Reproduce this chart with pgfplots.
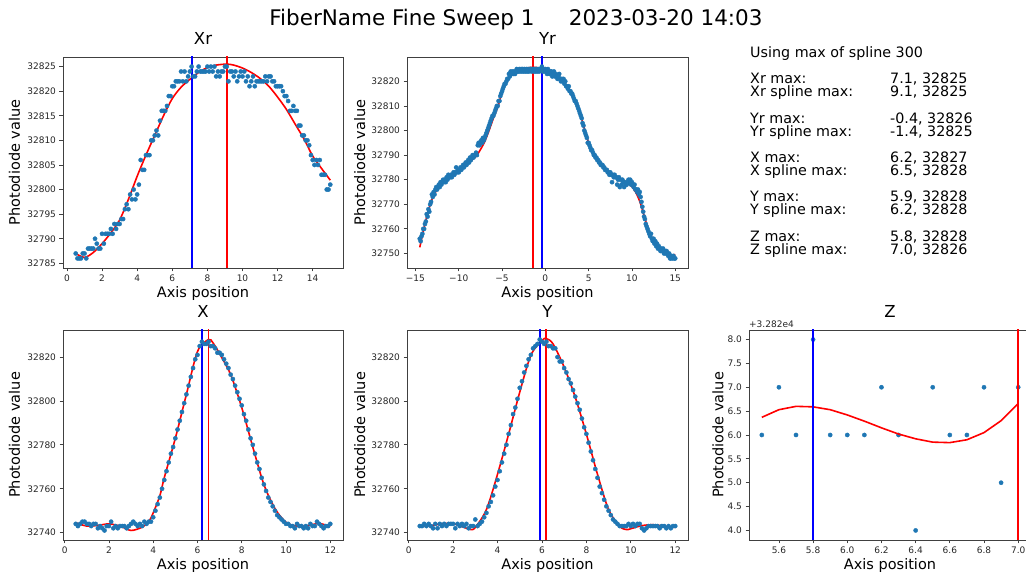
\documentclass[border=0pt]{standalone}
\usepackage{fontspec}
\setmainfont{DejaVu Sans}
\usepackage{pgfplots}
\pgfplotsset{compat=1.18}
\definecolor{cz}{HTML}{1F77B4}
\pgfplotsset{
  base/.style={
    scale only axis, width=280pt, height=211pt,
    axis line style={black!75, line width=0.8pt},
    tick align=outside, major tick length=3.5pt,
    tick style={black!75, line width=0.8pt},
    tick pos=left,
    ticklabel style={font=\fontsize{9}{10}\selectfont, text=black!85},
    /pgf/number format/assume math mode=true,
    /pgf/number format/set thousands separator={},
    scaled ticks=false,
    label style={font=\fontsize{14.5}{17}\selectfont},
    title style={font=\fontsize{16.5}{19}\selectfont, at={(axis description cs:0.5,1)}, anchor=base, yshift=6pt},
    xlabel style={at={(axis description cs:0.5,0)}, anchor=base, yshift=-29.5pt},
    xlabel={Axis position}, ylabel={Photodiode value},
  },
  dots/.style={only marks, mark=*, mark size=2.1pt, mark options={fill=cz, draw=none}, color=cz},
  spl/.style={red, line width=1.6pt, no marks, smooth},
  vb/.style={blue, line width=1.9pt, no marks},
  vr/.style={red, line width=1.9pt, no marks},
}
\begin{document}
\begin{tikzpicture}[x=1pt,y=1pt]
% ---------------- Xr
\begin{axis}[base, at={(63pt,310pt)}, anchor=south west,
  title={Xr}, ylabel style={at={(axis description cs:-0.1536,0.5)}, anchor=base},
  xmin=-0.225, xmax=15.725, ymin=32784.05, ymax=32826.95,
  xtick={0,2,4,6,8,10,12,14}, ytick={32785,32790,32795,32800,32805,32810,32815,32820,32825}]
\addplot[dots] coordinates {
(0.5,32787)(0.6,32786)(0.7,32786)(0.8,32786)(0.9,32787)(1.0,32787)(1.1,32786)(1.2,32788)(1.3,32788)(1.4,32788)
(1.5,32788)(1.6,32790)(1.7,32789)(1.8,32788)(1.9,32788)(2.0,32791)(2.1,32789)(2.2,32791)(2.3,32791)(2.4,32791)
(2.5,32792)(2.6,32791)(2.7,32793)(2.8,32792)(2.9,32793)(3.0,32793)(3.1,32794)(3.2,32794)(3.3,32796)(3.4,32797)
(3.5,32796)(3.6,32799)(3.7,32798)(3.8,32800)(3.9,32798)(4.0,32799)(4.1,32801)(4.2,32806)(4.3,32804)(4.4,32804)
(4.5,32807)(4.6,32807)(4.7,32807)(4.8,32810)(4.9,32810)(5.0,32811)(5.1,32812)(5.2,32811)(5.3,32814)(5.4,32816)
(5.5,32816)(5.6,32816)(5.7,32817)(5.8,32819)(5.9,32819)(6.0,32821)(6.1,32821)(6.2,32822)(6.3,32822)(6.4,32822)
(6.5,32824)(6.6,32822)(6.7,32824)(6.8,32822)(6.9,32823)(7.0,32824)(7.1,32825)(7.2,32823)(7.3,32823)(7.4,32824)
(7.5,32825)(7.6,32824)(7.7,32824)(7.8,32824)(7.9,32824)(8.0,32825)(8.1,32824)(8.2,32825)(8.3,32824)(8.4,32825)
(8.5,32823)(8.6,32824)(8.7,32823)(8.8,32824)(8.9,32824)(9.0,32825)(9.1,32825)(9.2,32822)(9.3,32824)(9.4,32824)
(9.5,32823)(9.6,32824)(9.7,32822)(9.8,32823)(9.9,32824)(10.0,32823)(10.1,32824)(10.2,32822)(10.3,32823)(10.4,32821)
(10.5,32822)(10.6,32823)(10.7,32821)(10.8,32822)(10.9,32822)(11.0,32822)(11.1,32822)(11.2,32822)(11.3,32823)(11.4,32822)
(11.5,32823)(11.6,32823)(11.7,32822)(11.8,32822)(11.9,32821)(12.0,32821)(12.1,32821)(12.2,32821)(12.3,32820)(12.4,32819)
(12.5,32819)(12.6,32818)(12.7,32816)(12.8,32816)(12.9,32817)(13.0,32816)(13.1,32816)(13.2,32813)(13.3,32813)(13.4,32811)
(13.5,32811)(13.6,32810)(13.7,32810)(13.8,32809)(13.9,32807)(14.0,32806)(14.1,32805)(14.2,32806)(14.3,32805)(14.4,32806)
(14.5,32803)(14.6,32803)(14.7,32803)(14.8,32800)(14.9,32800)(15.0,32801)};
\addplot[spl] coordinates {(0.5,32787)(1.0,32786.2)(1.5,32787.2)(2,32789)(2.5,32791.2)(3,32793.8)(3.5,32798)(4,32802.7)(4.5,32807)(5,32811)(5.5,32815)(6,32818.5)(6.5,32820.8)(7,32822.4)(7.5,32823.8)(8,32824.8)(8.5,32825.3)(9.1,32825.5)(9.5,32825.3)(10,32824.7)(10.5,32823.8)(11,32822.6)(11.5,32821)(12,32818.8)(12.5,32816.3)(13,32813.3)(13.5,32810.3)(14,32806.8)(14.5,32804.3)(15,32801.9)};
\addplot[vb] coordinates {(7.1,32700)(7.1,32900)};
\addplot[vr] coordinates {(9.1,32700)(9.1,32900)};
\end{axis}
% ---------------- Yr
\begin{axis}[base, at={(407pt,310pt)}, anchor=south west, width=281pt,
  title={Yr}, ylabel style={at={(axis description cs:-0.149,0.5)}, anchor=base},
  xmin=-15.975, xmax=16.475, ymin=32744.1, ymax=32829.9,
  xtick={-15,-10,-5,0,5,10,15}, xticklabels={−15,−10,−5,0,5,10,15}, ytick={32750,32760,32770,32780,32790,32800,32810,32820}]
\addplot[dots] coordinates {
(-14.5,32756)(-14.4,32755)(-14.3,32757)(-14.2,32758)(-14.1,32760)(-14.0,32760)(-13.9,32762)(-13.8,32763)(-13.7,32766)(-13.6,32765)
(-13.5,32768)(-13.4,32767)(-13.3,32770)(-13.2,32771)(-13.1,32774)(-13.0,32773)(-12.9,32775)(-12.8,32774)(-12.7,32776)(-12.6,32777)
(-12.5,32776)(-12.4,32777)(-12.3,32778)(-12.2,32777)(-12.1,32779)(-12.0,32778)(-11.9,32779)(-11.8,32780)(-11.7,32779)(-11.6,32780)
(-11.5,32779)(-11.4,32781)(-11.3,32780)(-11.2,32782)(-11.1,32781)(-11.0,32781)(-10.9,32782)(-10.8,32781)(-10.7,32782)(-10.6,32783)
(-10.5,32782)(-10.4,32783)(-10.3,32785)(-10.2,32783)(-10.1,32784)(-10.0,32783)(-9.9,32784)(-9.8,32785)(-9.7,32784)(-9.6,32785)
(-9.5,32786)(-9.4,32785)(-9.3,32786)(-9.2,32787)(-9.1,32786)(-9.0,32787)(-8.9,32788)(-8.8,32787)(-8.7,32789)(-8.6,32788)
(-8.5,32789)(-8.4,32790)(-8.3,32789)(-8.2,32790)(-8.1,32790)(-8.0,32791)(-7.9,32790)(-7.8,32794)(-7.7,32795)(-7.6,32794)
(-7.5,32795)(-7.4,32796)(-7.3,32795)(-7.2,32797)(-7.1,32796)(-7.0,32797)(-6.9,32798)(-6.8,32799)(-6.7,32800)(-6.6,32801)
(-6.5,32802)(-6.4,32803)(-6.3,32804)(-6.2,32805)(-6.1,32806)(-6.0,32806)(-5.9,32807)(-5.8,32808)(-5.7,32809)(-5.6,32810)
(-5.5,32810)(-5.4,32812)(-5.3,32812)(-5.2,32814)(-5.1,32815)(-5.0,32816)(-4.9,32817)(-4.8,32818)(-4.7,32819)(-4.6,32819)
(-4.5,32820)(-4.4,32821)(-4.3,32821)(-4.2,32823)(-4.1,32822)(-4.0,32824)(-3.9,32823)(-3.8,32824)(-3.7,32823)(-3.6,32824)
(-3.5,32823)(-3.4,32824)(-3.3,32825)(-3.2,32824)(-3.1,32824)(-3.0,32825)(-2.9,32824)(-2.8,32825)(-2.7,32824)(-2.6,32825)
(-2.5,32824)(-2.4,32825)(-2.3,32824)(-2.2,32825)(-2.1,32824)(-2.0,32825)(-1.9,32824)(-1.8,32825)(-1.7,32825)(-1.6,32824)
(-1.5,32825)(-1.4,32825)(-1.3,32824)(-1.2,32825)(-1.1,32824)(-1.0,32825)(-0.9,32824)(-0.8,32825)(-0.7,32824)(-0.6,32825)
(-0.5,32825)(-0.4,32826)(-0.3,32824)(-0.2,32825)(-0.1,32824)(0.0,32825)(0.1,32824)(0.2,32823)(0.3,32825)(0.4,32824)
(0.5,32823)(0.6,32824)(0.7,32824)(0.8,32822)(0.9,32823)(1.0,32824)(1.1,32822)(1.2,32823)(1.3,32822)(1.4,32821)
(1.5,32822)(1.6,32823)(1.7,32821)(1.8,32820)(1.9,32821)(2.0,32820)(2.1,32821)(2.2,32819)(2.3,32820)(2.4,32818)
(2.5,32818)(2.6,32817)(2.7,32818)(2.8,32816)(2.9,32816)(3.0,32815)(3.1,32815)(3.2,32814)(3.3,32813)(3.4,32812)
(3.5,32812)(3.6,32811)(3.7,32810)(3.8,32809)(3.9,32808)(4.0,32807)(4.1,32806)(4.2,32805)(4.3,32803)(4.4,32802)
(4.5,32800)(4.6,32799)(4.7,32798)(4.8,32797)(4.9,32795)(5.0,32795)(5.1,32794)(5.2,32793)(5.3,32792)(5.4,32792)
(5.5,32791)(5.6,32790)(5.7,32790)(5.8,32789)(5.9,32789)(6.0,32788)(6.1,32788)(6.2,32787)(6.3,32787)(6.4,32786)
(6.5,32786)(6.6,32786)(6.7,32785)(6.8,32785)(6.9,32784)(7.0,32784)(7.1,32784)(7.2,32783)(7.3,32783)(7.4,32782)
(7.5,32783)(7.6,32782)(7.7,32779)(7.8,32782)(7.9,32781)(8.0,32782)(8.1,32781)(8.2,32781)(8.3,32778)(8.4,32780)
(8.5,32781)(8.6,32777)(8.7,32780)(8.8,32778)(8.9,32780)(9.0,32779)(9.1,32777)(9.2,32779)(9.3,32778)(9.4,32778)
(9.5,32779)(9.6,32780)(9.7,32779)(9.8,32780)(9.9,32778)(10.0,32779)(10.1,32778)(10.2,32777)(10.3,32778)(10.4,32776)
(10.5,32776)(10.6,32775)(10.7,32776)(10.8,32774)(10.9,32775)(11.0,32773)(11.1,32771)(11.2,32769)(11.3,32767)(11.4,32765)
(11.5,32764)(11.6,32762)(11.7,32761)(11.8,32760)(11.9,32759)(12.0,32758)(12.1,32757)(12.2,32758)(12.3,32756)(12.4,32755)
(12.5,32756)(12.6,32754)(12.7,32755)(12.8,32753)(12.9,32754)(13.0,32752)(13.1,32753)(13.2,32752)(13.3,32751)(13.4,32752)
(13.5,32751)(13.6,32752)(13.7,32750)(13.8,32751)(13.9,32750)(14.0,32751)(14.1,32750)(14.2,32749)(14.3,32750)(14.4,32748)
(14.5,32748)(14.6,32749)(14.7,32748)(14.8,32749)(14.9,32748)(15.0,32748)};
\addplot[spl] coordinates {(-14.5,32752.5)(-14.0,32760.5)(-13.5,32767.5)(-13.0,32772.8)(-12.5,32776)(-12.0,32778)(-11.5,32779.6)(-11.0,32781)(-10.5,32782.3)(-10.0,32783.5)(-9.5,32784.8)(-9.0,32786.6)(-8.5,32788)(-8.0,32789.5)(-7.5,32792.2)(-7.0,32795.5)(-6.5,32800)(-6.0,32805)(-5.5,32809.5)(-5.0,32815.5)(-4.5,32819.8)(-4.0,32822.2)(-3.5,32823.8)(-3.0,32824.7)(-2.5,32825.2)(-2.0,32825.5)(-1.5,32825.7)(-1.0,32825.6)(-0.5,32825.3)(0.0,32824.8)(0.5,32824.1)(1.0,32823.1)(1.5,32821.8)(2.0,32820.2)(2.5,32818)(3.0,32815.3)(3.5,32811.8)(4.0,32807.3)(4.5,32800.8)(5.0,32795)(5.5,32791.2)(6.0,32788.5)(6.5,32786.1)(7.0,32784.2)(7.5,32782.7)(8.0,32781.6)(8.5,32780.7)(9.0,32779.8)(9.5,32778.6)(10.0,32777.2)(10.5,32774.5)(11.0,32770.2)(11.5,32764.2)(12.0,32758.6)(12.5,32755.3)(13.0,32753)(13.5,32751.3)(14.0,32749.9)(14.5,32749.1)(15.0,32749.6)};
\addplot[vr] coordinates {(-1.4,32700)(-1.4,32900)};
\addplot[vb] coordinates {(-0.4,32700)(-0.4,32900)};
\end{axis}
% ---------------- X
\begin{axis}[base, at={(63pt,38pt)}, anchor=south west, height=210pt,
  title={X}, ylabel style={at={(axis description cs:-0.1536,0.5)}, anchor=base},
  xmin=-0.075, xmax=12.575, ymin=32736.65, ymax=32832.35,
  xtick={0,2,4,6,8,10,12}, ytick={32740,32760,32780,32800,32820}]
\addplot[dots] coordinates {
(0.5,32744)(0.6,32743)(0.7,32744)(0.8,32745)(0.9,32745)(1.0,32744)(1.1,32744)(1.2,32743)(1.3,32744)(1.4,32744)
(1.5,32742)(1.6,32743)(1.7,32742)(1.8,32741)(1.9,32743)(2.0,32743)(2.1,32745)(2.2,32742)(2.3,32743)(2.4,32742)
(2.5,32743)(2.6,32743)(2.7,32743)(2.8,32742)(2.9,32743)(3.0,32744)(3.1,32745)(3.2,32744)(3.3,32743)(3.4,32744)
(3.5,32743)(3.6,32745)(3.7,32744)(3.8,32745)(3.9,32745)(4.0,32747)(4.1,32750)(4.2,32753)(4.3,32756)(4.4,32760)
(4.5,32764)(4.6,32768)(4.7,32772)(4.8,32776)(4.9,32779)(5.0,32783)(5.1,32787)(5.2,32791)(5.3,32795)(5.4,32799)
(5.5,32803)(5.6,32807)(5.7,32811)(5.8,32815)(5.9,32819)(6.0,32821)(6.1,32825)(6.2,32827)(6.3,32826)(6.4,32826)
(6.5,32827)(6.6,32825)(6.7,32825)(6.8,32824)(6.9,32822)(7.0,32822)(7.1,32821)(7.2,32819)(7.3,32817)(7.4,32815)
(7.5,32812)(7.6,32810)(7.7,32807)(7.8,32804)(7.9,32801)(8.0,32798)(8.1,32794)(8.2,32791)(8.3,32787)(8.4,32783)
(8.5,32780)(8.6,32776)(8.7,32772)(8.8,32769)(8.9,32765)(9.0,32762)(9.1,32759)(9.2,32756)(9.3,32754)(9.4,32752)
(9.5,32750)(9.6,32748)(9.7,32747)(9.8,32746)(9.9,32745)(10.0,32744)(10.1,32744)(10.2,32743)(10.3,32743)(10.4,32742)
(10.5,32744)(10.6,32743)(10.7,32743)(10.8,32742)(10.9,32743)(11.0,32742)(11.1,32744)(11.2,32743)(11.3,32743)(11.4,32745)
(11.5,32744)(11.6,32743)(11.7,32742)(11.8,32743)(11.9,32743)(12.0,32744)};
\addplot[spl] coordinates {(0.5,32744.5)(1.0,32743)(1.5,32743.3)(2.0,32744)(2.5,32743)(3.0,32741)(3.5,32742.5)(3.8,32745)(4.0,32749)(4.3,32756.8)(4.5,32765)(5.0,32783)(5.5,32803)(6.0,32822.5)(6.5,32828)(6.7,32826.5)(7.0,32821.5)(7.5,32812)(8.0,32797)(8.5,32779)(9.0,32762)(9.5,32751)(10.0,32744.7)(10.5,32743)(11.0,32743.2)(11.5,32744.2)(12.0,32742.7)};
\addplot[vb] coordinates {(6.2,32700)(6.2,32900)};
\addplot[vr] coordinates {(6.5,32700)(6.5,32900)};
\end{axis}
% ---------------- Y
\begin{axis}[base, at={(407pt,38pt)}, anchor=south west, width=281pt, height=210pt,
  title={Y}, ylabel style={at={(axis description cs:-0.149,0.5)}, anchor=base},
  xmin=-0.075, xmax=12.575, ymin=32736.65, ymax=32832.35,
  xtick={0,2,4,6,8,10,12}, ytick={32740,32760,32780,32800,32820}]
\addplot[dots] coordinates {
(0.5,32743)(0.6,32743)(0.7,32744)(0.8,32743)(0.9,32744)(1.0,32743)(1.1,32742)(1.2,32744)(1.3,32742)(1.4,32744)
(1.5,32743)(1.6,32744)(1.7,32743)(1.8,32744)(1.9,32744)(2.0,32744)(2.1,32742)(2.2,32744)(2.3,32743)(2.4,32744)
(2.5,32743)(2.6,32744)(2.7,32742)(2.8,32743)(2.9,32743)(3.0,32746)(3.1,32743)(3.2,32744)(3.3,32745)(3.4,32747)
(3.5,32749)(3.6,32752)(3.7,32754)(3.8,32757)(3.9,32761)(4.0,32764)(4.1,32768)(4.2,32772)(4.3,32776)(4.4,32780)
(4.5,32785)(4.6,32789)(4.7,32794)(4.8,32797)(4.9,32801)(5.0,32806)(5.1,32809)(5.2,32813)(5.3,32816)(5.4,32819)
(5.5,32821)(5.6,32824)(5.7,32825)(5.8,32826)(5.9,32828)(6.0,32827)(6.1,32826)(6.2,32827)(6.3,32825)(6.4,32825)
(6.5,32824)(6.6,32824)(6.7,32820)(6.8,32818)(6.9,32818)(7.0,32815)(7.1,32813)(7.2,32810)(7.3,32808)(7.4,32805)
(7.5,32802)(7.6,32799)(7.7,32796)(7.8,32792)(7.9,32788)(8.0,32785)(8.1,32781)(8.2,32777)(8.3,32773)(8.4,32769)
(8.5,32765)(8.6,32761)(8.7,32758)(8.8,32755)(8.9,32752)(9.0,32750)(9.1,32748)(9.2,32746)(9.3,32745)(9.4,32744)
(9.5,32743)(9.6,32743)(9.7,32743)(9.8,32743)(9.9,32744)(10.0,32743)(10.1,32744)(10.2,32743)(10.3,32744)(10.4,32744)
(10.5,32742)(10.6,32741)(10.7,32742)(10.8,32743)(10.9,32743)(11.0,32743)(11.1,32743)(11.2,32743)(11.3,32742)(11.4,32743)
(11.5,32743)(11.6,32742)(11.7,32743)(11.8,32742)(11.9,32743)(12.0,32743)};
\addplot[spl] coordinates {(0.5,32743)(1.0,32743.2)(1.5,32744)(2.0,32744.1)(2.5,32742.4)(2.8,32741.4)(3.0,32742.4)(3.5,32750.5)(4.0,32766.6)(4.5,32784.9)(5.0,32804)(5.5,32820.8)(6.0,32827.6)(6.2,32828.4)(6.5,32826)(7.0,32815.4)(7.5,32801.7)(8.0,32784.9)(8.5,32766.6)(9.0,32750.5)(9.5,32742.9)(9.8,32741.4)(10.0,32741.8)(10.5,32743.2)(11.0,32743.6)(11.5,32743)(12.0,32742.4)};
\addplot[vb] coordinates {(5.9,32700)(5.9,32900)};
\addplot[vr] coordinates {(6.2,32700)(6.2,32900)};
\end{axis}
% ---------------- Z
\begin{axis}[base, at={(749pt,38pt)}, anchor=south west, width=282pt, height=210pt,
  title={Z}, ylabel style={at={(axis description cs:-0.091,0.5)}, anchor=base},
  clip mode=individual,
  xmin=5.425, xmax=7.075, ymin=32823.8, ymax=32828.2,
  xtick={5.6,5.8,6.0,6.2,6.4,6.6,6.8,7.0}, xticklabels={5.6,5.8,6.0,6.2,6.4,6.6,6.8,7.0},
  ytick={32824,32824.5,32825,32825.5,32826,32826.5,32827,32827.5,32828}, yticklabels={4.0,4.5,5.0,5.5,6.0,6.5,7.0,7.5,8.0}]
\addplot[dots] coordinates {(5.5,32826)(5.6,32827)(5.7,32826)(5.8,32828)(5.9,32826)(6.0,32826)(6.1,32826)(6.2,32827)(6.3,32826)(6.4,32824)(6.5,32827)(6.6,32826)(6.7,32826)(6.8,32827)(6.9,32825)(7.0,32827)};
\addplot[red, line width=1.6pt, no marks] coordinates {(5.5,32826.37)(5.6,32826.53)(5.7,32826.6)(5.8,32826.59)(5.9,32826.53)(6.0,32826.42)(6.1,32826.29)(6.2,32826.15)(6.3,32826.02)(6.4,32825.92)(6.5,32825.85)(6.6,32825.84)(6.7,32825.9)(6.8,32826.05)(6.9,32826.3)(7.0,32826.66)};
\addplot[vb] coordinates {(5.8,32800)(5.8,32900)};
\addplot[vr] coordinates {(7.0,32800)(7.0,32900)};
\node[anchor=base west, font=\fontsize{9}{10}\selectfont, text=black!85, inner sep=0pt] at (axis description cs:0,1) [yshift=2.5pt] {+3.282e4};
\end{axis}
% ---------------- suptitle and text panel
\node[anchor=base, font=\fontsize{21.5}{25}\selectfont] at (516,552) {FiberName Fine Sweep 1\hspace{1.6em}2023-03-20 14:03};
\begin{scope}[every node/.style={anchor=base west, inner sep=0pt, font=\fontsize{14.3}{16}\selectfont}]
\node at (750,520) {Using max of spline 300};
\node at (750,494) {Xr max:}; \node at (890,494) {7.1, 32825};
\node at (750,481) {Xr spline max:}; \node at (890,481) {9.1, 32825};
\node at (750,454.7) {Yr max:}; \node at (890,454.7) {-0.4, 32826};
\node at (750,441.7) {Yr spline max:}; \node at (890,441.7) {-1.4, 32825};
\node at (750,415.4) {X max:}; \node at (890,415.4) {6.2, 32827};
\node at (750,402.4) {X spline max:}; \node at (890,402.4) {6.5, 32828};
\node at (750,376.1) {Y max:}; \node at (890,376.1) {5.9, 32828};
\node at (750,363.1) {Y spline max:}; \node at (890,363.1) {6.2, 32828};
\node at (750,336.8) {Z max:}; \node at (890,336.8) {5.8, 32828};
\node at (750,323.8) {Z spline max:}; \node at (890,323.8) {7.0, 32826};
\end{scope}
\pgfresetboundingbox
\path[use as bounding box] (0,0) rectangle (1026,578);
\end{tikzpicture}
\end{document}
